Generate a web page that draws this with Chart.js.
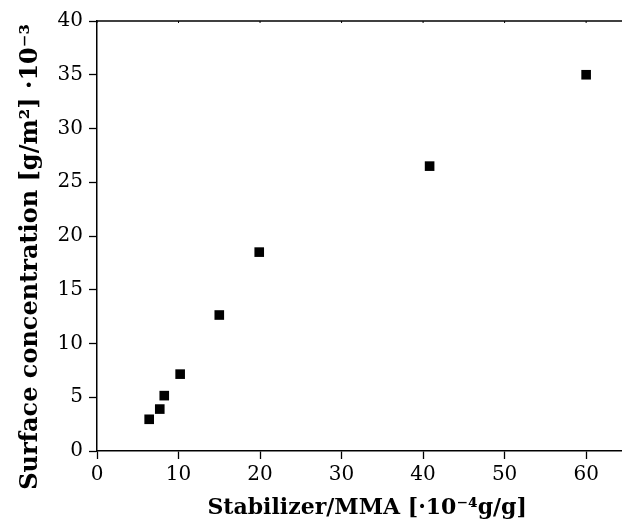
<!DOCTYPE html>
<html>
<head>
<meta charset="utf-8">
<script src="https://cdn.jsdelivr.net/npm/chart.js@4.4.1/dist/chart.umd.min.js"></script>
<style>
  html, body { margin: 0; padding: 0; background: #fff; }
  #wrap { width: 622px; height: 525px; }
</style>
</head>
<body>
<div id="wrap"><canvas id="scatterChart" width="622" height="525"></canvas></div>
<script>
// stabilizer/MMA ratio [·10^-4 g/g] and surface concentration [g/m2 ·10^-3]
const stabilizer = [6.4, 7.7, 8.25, 10.2, 15.0, 19.9, 40.8, 60.0];
const surfaceConc = [2.95, 3.9, 5.15, 7.15, 12.65, 18.5, 26.5, 35.0];
const xTicks = [0, 10, 20, 30, 40, 50, 60];
const yStep = 5;

const serif = "'DejaVu Serif', 'Liberation Serif', serif";

// top frame line with small inward ticks, plus the x tick labels, all placed from the x scale
const frameAndLabels = {
  id: 'frameAndLabels',
  afterDraw(chart) {
    const { ctx, chartArea, scales } = chart;
    const xs = scales.x;
    ctx.save();
    ctx.strokeStyle = '#000';
    ctx.lineWidth = 1.5;
    ctx.beginPath();
    ctx.moveTo(chartArea.left, chartArea.top);
    ctx.lineTo(chartArea.right, chartArea.top);
    ctx.stroke();
    ctx.lineWidth = 1;
    ctx.fillStyle = '#000';
    ctx.font = '20px ' + serif;
    ctx.textAlign = 'center';
    ctx.textBaseline = 'alphabetic';
    xs.ticks.forEach(t => {
      const px = xs.getPixelForValue(t.value);
      ctx.beginPath();
      ctx.moveTo(px, chartArea.top);
      ctx.lineTo(px, chartArea.top + 2);
      ctx.stroke();
      ctx.fillText(String(t.value), px, chartArea.bottom + 29);
    });
    ctx.restore();
  }
};

function createScatterChart() {
  const ctx = document.getElementById('scatterChart');

  return new Chart(ctx, {
    type: 'scatter',
    data: {
      datasets: [{
        data: stabilizer.map((x, i) => ({ x: x, y: surfaceConc[i] })),
        pointStyle: 'rect',
        pointRadius: 6.8,
        borderWidth: 0,
        backgroundColor: '#000'
      }]
    },
    plugins: [frameAndLabels],
    options: {
      responsive: false,
      animation: false,
      layout: { autoPadding: false, padding: { top: 21 } },
      plugins: {
        legend: { display: false }
      },
      scales: {
        x: {
          type: 'linear',
          min: 0,
          max: 64.4,
          afterBuildTicks: s => { s.ticks = xTicks.map(v => ({ value: v })); },
          afterFit: s => { s.height = 74; s.paddingLeft = 0; s.paddingRight = 0; },
          grid: { drawOnChartArea: false, tickLength: 8, color: '#000', tickWidth: 1.3 },
          border: { color: '#000', width: 1.5 },
          ticks: { display: false },
          title: {
            display: true,
            text: '  Stabilizer/MMA [·10⁻⁴g/g]',
            color: '#000',
            font: { family: serif, size: 22, weight: 'bold' }
          }
        },
        y: {
          min: 0,
          max: 40,
          afterFit: s => { s.width = 97; },
          grid: { drawOnChartArea: false, tickLength: 8, color: '#000', tickWidth: 1.3 },
          border: { color: '#000', width: 1.5 },
          ticks: { stepSize: yStep, color: '#000', padding: 6, font: { family: serif, size: 20 } },
          title: {
            display: true,
            text: 'Surface concentration [g/m²] ·10⁻³     ',
            color: '#000',
            padding: { top: 16, bottom: 0 },
            font: { family: serif, size: 24, weight: 'bold' }
          }
        }
      }
    }
  });
}

createScatterChart();
</script>
</body>
</html>
